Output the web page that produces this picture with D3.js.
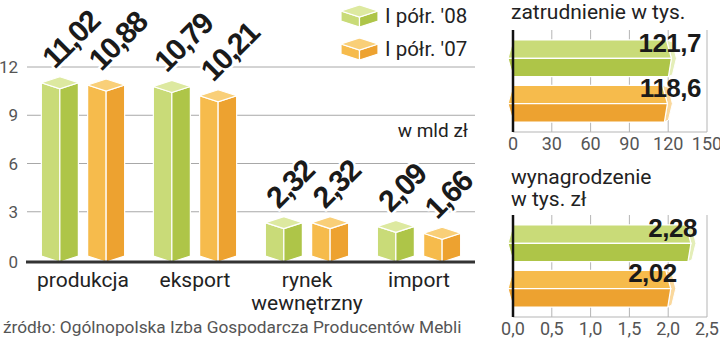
<!DOCTYPE html>
<html>
<head>
<meta charset="utf-8">
<script src="https://cdn.jsdelivr.net/npm/d3@7"></script>
<style>
  body { margin: 0; background: #fff; }
  svg { display: block; font-family: Roboto, "Liberation Sans", sans-serif; }
</style>
</head>
<body>
<svg id="chart" width="720" height="339"></svg>
<script>
// data
const categories = ['produkcja', 'eksport', 'rynek wewnętrzny', 'import'];
const series = ['08', '07'];
const seriesLabels = ["I półr. '08", "I półr. '07"];
const values08 = [11.02, 10.79, 2.32, 2.09];
const values07 = [10.88, 10.21, 2.32, 1.66];
const yTicks = [0, 3, 6, 9, 12];

const employment = [121.7, 118.6];
const employmentTicks = [0, 30, 60, 90, 120, 150];
const wages = [2.28, 2.02];
const wageTicks = [0, 0.5, 1.0, 1.5, 2.0, 2.5];

const unitLabel = 'w mld zł';
const sourceLabel = 'źródło: Ogólnopolska Izba Gospodarcza Producentów Mebli';

window.Chart = window.Chart || {};

Chart.colors = {
    '08': { top: '#dde9a0', left: '#c9db78', right: '#aec548', cap: '#e4eeb8' },
    '07': { top: '#f9cf78', left: '#f6bb4c', right: '#eda230', cap: '#fad89c' }
};

Chart.fmt = function(v, digits) {
    return v.toFixed(digits).replace('.', ',');
};

Chart.helpers = {
    // vertical 3d box, yTop = height of side corners
    box: function(g, x0, w, yTop, yBottom, d, c) {
        const xm = x0 + w / 2, x1 = x0 + w;
        g.append('polygon')
            .attr('points', [[x0, yTop], [xm, yTop + d], [xm, yBottom + d], [x0, yBottom]].join(' '))
            .attr('fill', c.left).attr('stroke', '#fff').attr('stroke-width', 1.2);
        g.append('polygon')
            .attr('points', [[xm, yTop + d], [x1, yTop], [x1, yBottom], [xm, yBottom + d]].join(' '))
            .attr('fill', c.right).attr('stroke', '#fff').attr('stroke-width', 1.2);
        g.append('polygon')
            .attr('points', [[x0, yTop], [xm, yTop - d], [x1, yTop], [xm, yTop + d]].join(' '))
            .attr('fill', c.top).attr('stroke', '#fff').attr('stroke-width', 1.2);
    },

    // horizontal prism bar
    hbar: function(g, xl, xv, yt, yb, c) {
        const ym = (yt + yb) / 2;
        g.append('polygon')
            .attr('points', [[xv - 4, yt], [xv + 2, yt + 2], [xv + 6, ym], [xv + 2, yb - 2], [xv - 2, yb], [xv + 1, ym]].join(' '))
            .attr('fill', c.cap).attr('stroke', '#fff').attr('stroke-width', 1);
        g.append('polygon')
            .attr('points', [[xl, yt], [xv - 4, yt], [xv + 1, ym], [xl - 5, ym]].join(' '))
            .attr('fill', c.left).attr('stroke', '#fff').attr('stroke-width', 1.2);
        g.append('polygon')
            .attr('points', [[xl - 5, ym], [xv + 1, ym], [xv - 2, yb], [xl, yb]].join(' '))
            .attr('fill', c.right).attr('stroke', '#fff').attr('stroke-width', 1.2);
    }
};

Chart.core = {
    drawMain: function(svg) {
        const base = 260;
        const y = d3.scaleLinear().domain([0, 12]).range([base, 67]);
        const x0 = d3.scaleBand().domain(categories).range([27, 475]);
        const x1 = d3.scaleBand().domain(series).range([0, x0.bandwidth()])
            .paddingInner(0.2).paddingOuter(0.31);
        const g = svg.append('g');

        // grid
        g.selectAll('line.grid').data(yTicks.filter(t => t > 0)).join('line')
            .attr('x1', 27).attr('x2', 475)
            .attr('y1', d => y(d)).attr('y2', d => y(d))
            .attr('stroke', '#a8a8a8').attr('stroke-width', 1);
        g.selectAll('text.ytick').data(yTicks).join('text')
            .attr('x', 18).attr('y', d => y(d) + (d === 0 ? 8 : 6))
            .attr('text-anchor', 'end').attr('font-size', 17).attr('fill', '#555')
            .text(d => d);

        g.append('text').attr('x', 468).attr('y', 137).attr('text-anchor', 'end')
            .attr('font-size', 19).attr('fill', '#222').text(unitLabel);

        const rows = [];
        categories.forEach(function(cat, i) {
            rows.push({ cat: cat, s: '08', v: values08[i] });
            rows.push({ cat: cat, s: '07', v: values07[i] });
        });

        const d = 6;
        rows.forEach(function(r) {
            const bx = x0(r.cat) + x1(r.s);
            Chart.helpers.box(g, bx, x1.bandwidth(), y(r.v), base + 2 - d, d, Chart.colors[r.s]);
        });

        // axis line
        g.append('line').attr('x1', 26).attr('x2', 475).attr('y1', base + 2).attr('y2', base + 2)
            .attr('stroke', '#333').attr('stroke-width', 3);

        // value labels
        rows.forEach(function(r) {
            const xm = x0(r.cat) + x1(r.s) + x1.bandwidth() / 2;
            const yp = y(r.v) - d;
            g.append('text')
                .attr('transform', 'translate(' + (xm - 5) + ',' + (yp - 7) + ') rotate(-45)')
                .attr('font-family', '"Liberation Sans", Arial, sans-serif')
                .attr('font-weight', 'bold').attr('font-size', 30).attr('letter-spacing', -1.5)
                .attr('fill', '#1a1a1a').attr('stroke', '#fff').attr('stroke-width', 5)
                .attr('paint-order', 'stroke').attr('stroke-linejoin', 'round')
                .text(Chart.fmt(r.v, 2));
        });

        // category labels
        g.selectAll('text.cat').data(categories).join('text')
            .attr('x', c => x0(c) + x0.bandwidth() / 2).attr('y', 287)
            .attr('text-anchor', 'middle').attr('font-size', 21).attr('fill', '#222')
            .each(function(c) {
                const parts = c.split(' ');
                d3.select(this).selectAll('tspan').data(parts).join('tspan')
                    .attr('x', x0(c) + x0.bandwidth() / 2)
                    .attr('dy', (p, i) => i === 0 ? 0 : 23)
                    .text(p => p);
            });

        // legend
        series.forEach(function(s, i) {
            const ly = 11 + i * 33;
            Chart.helpers.box(g, 341, 37, ly, ly + 10, 6, Chart.colors[s]);
            g.append('text').attr('x', 385).attr('y', ly + 12)
                .attr('font-size', 20.5).attr('fill', '#222').text(seriesLabels[i]);
        });

        svg.append('text').attr('x', 3).attr('y', 333)
            .attr('font-size', 17.3).attr('fill', '#555').text(sourceLabel);
    },

    drawPanel: function(svg, opts) {
        const top = opts.top, bottom = top + 102;
        const x = d3.scaleLinear().domain([0, opts.ticks[opts.ticks.length - 1]]).range([513, 707]);
        const yb = d3.scaleBand().domain(series).range([top, bottom])
            .paddingInner(0.19).paddingOuter(0.22);
        const g = svg.append('g');

        opts.title.forEach(function(t, i) {
            g.append('text').attr('x', 511).attr('y', opts.titleY + i * 22)
                .attr('font-size', 21).attr('fill', '#222').text(t);
        });

        g.selectAll('line.grid').data(opts.ticks.slice(1)).join('line')
            .attr('x1', d => x(d)).attr('x2', d => x(d))
            .attr('y1', top).attr('y2', bottom)
            .attr('stroke', '#b5b5b5').attr('stroke-width', 1);
        g.append('line').attr('x1', 513).attr('x2', 707).attr('y1', bottom).attr('y2', bottom)
            .attr('stroke', '#b5b5b5').attr('stroke-width', 1);

        opts.values.forEach(function(v, i) {
            const s = series[i];
            Chart.helpers.hbar(g, x(0), x(v), yb(s), yb(s) + yb.bandwidth(), Chart.colors[s]);
        });

        g.append('line').attr('x1', 513).attr('x2', 513).attr('y1', top).attr('y2', bottom)
            .attr('stroke', '#111').attr('stroke-width', 2.5);

        g.selectAll('text.tick').data(opts.ticks).join('text')
            .attr('x', d => x(d)).attr('y', bottom + 18)
            .attr('text-anchor', 'middle').attr('font-size', 18).attr('fill', '#555')
            .text(d => Chart.fmt(d, opts.digits));

        opts.values.forEach(function(v, i) {
            const s = series[i];
            const lx = opts.labelRight ? 701 : x(v) + 7;
            g.append('text').attr('x', lx).attr('y', yb(s) + 12)
                .attr('text-anchor', 'end')
                .attr('font-family', '"Liberation Sans", Arial, sans-serif')
                .attr('font-weight', 'bold').attr('font-size', 26).attr('letter-spacing', -0.5)
                .attr('fill', '#1a1a1a')
                .text(Chart.fmt(v, opts.labelDigits));
        });
    }
};

Chart.init = function() {
    const svg = d3.select('#chart');
    Chart.core.drawMain(svg);
    Chart.core.drawPanel(svg, {
        top: 30, titleY: 19, title: ['zatrudnienie w tys.'],
        values: employment, ticks: employmentTicks, digits: 0, labelDigits: 1, labelRight: true
    });
    Chart.core.drawPanel(svg, {
        top: 215, titleY: 184, title: ['wynagrodzenie', 'w tys. zł'],
        values: wages, ticks: wageTicks, digits: 1, labelDigits: 2, labelRight: false
    });
};

Chart.init();
</script>
</body>
</html>
